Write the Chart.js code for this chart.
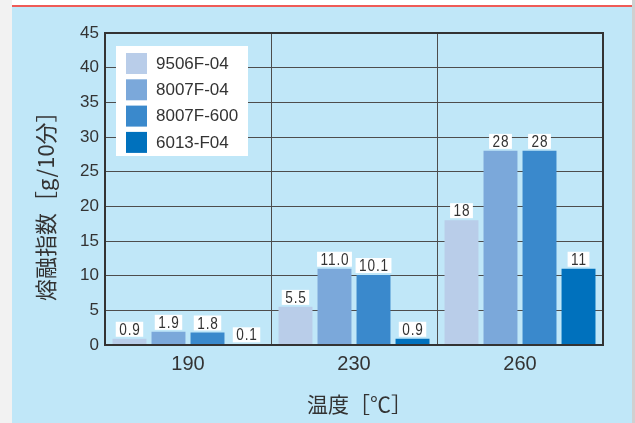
<!DOCTYPE html>
<html>
<head>
<meta charset="utf-8">
<script src="https://cdn.jsdelivr.net/npm/chart.js@4.4.1/dist/chart.umd.min.js"></script>
<style>
  html, body { margin: 0; padding: 0; background: #ffffff; }
  #page { position: relative; width: 635px; height: 423px; overflow: hidden; background: #ffffff; }
  #edgeL { position: absolute; left: 0; top: 0; width: 12px; height: 423px; background: #f2f2f2; }
  #edgeR { position: absolute; left: 632px; top: 0; width: 3px; height: 423px; background: #d0d0d0; }
  #panel { position: absolute; left: 12px; top: 5px; width: 620px; height: 418px; background: #c0e7f8; border-top: 2px solid #ef5b57; box-sizing: border-box; }
  #chart { position: absolute; left: 0; top: 0; }
</style>
</head>
<body>
<div id="page">
  <div id="edgeL"></div>
  <div id="edgeR"></div>
  <div id="panel"></div>
  <canvas id="chart" width="635" height="423"></canvas>
</div>
<script>
// Melt flow index of four grades at three test temperatures
const temperatures = ['190', '230', '260'];
const grades = ['9506F-04', '8007F-04', '8007F-600', '6013-F04'];
const mfi9506F04 = [0.9, 5.5, 18];
const mfi8007F04 = [1.9, 11.0, 28];
const mfi8007F600 = [1.8, 10.1, 28];
const mfi6013F04 = [0.1, 0.9, 11];
const labelDecimals = [1, 1, 0];
const yTicks = [0, 5, 10, 15, 20, 25, 30, 35, 40, 45];
const gradeColors = ['#b9cde9', '#7ba8da', '#3a89cc', '#0071bd'];

const seriesValues = [mfi9506F04, mfi8007F04, mfi8007F600, mfi6013F04];
const TEXT = '#333333';
const NUM_FONT = '"Liberation Sans", Arial, sans-serif';
const CJK_FONT = '"Noto Sans CJK JP", "Noto Sans CJK SC", sans-serif';
const LABEL_SX = 0.85;

function labelText(ds, i) {
  return ds.data[i].toFixed(labelDecimals[i]);
}
function setLabelFont(ctx) {
  ctx.font = '16px ' + NUM_FONT;
  if ('letterSpacing' in ctx) ctx.letterSpacing = '1px';
  ctx.textAlign = 'center';
  ctx.textBaseline = 'alphabetic';
}

// Heavier frame around the plot area
const plotFrame = {
  id: 'plotFrame',
  afterDatasetsDraw(chart) {
    const { ctx, chartArea: a } = chart;
    ctx.save();
    ctx.strokeStyle = '#333333';
    ctx.lineWidth = 2;
    ctx.strokeRect(a.left, a.top, a.right - a.left, a.bottom - a.top);
    ctx.restore();
  }
};

// Value captions above each bar; a white patch clears the grid behind the text
const valueLabels = {
  id: 'valueLabels',
  beforeDatasetsDraw(chart) {
    const ctx = chart.ctx;
    ctx.save();
    setLabelFont(ctx);
    ctx.fillStyle = '#ffffff';
    chart.data.datasets.forEach((ds, di) => {
      chart.getDatasetMeta(di).data.forEach((bar, i) => {
        const w = ctx.measureText(labelText(ds, i)).width * LABEL_SX;
        const base = bar.y - 4;
        ctx.fillRect(bar.x - w / 2 - 3, base - 13, w + 6, 15);
      });
    });
    ctx.restore();
  },
  afterDatasetsDraw(chart) {
    const ctx = chart.ctx;
    ctx.save();
    setLabelFont(ctx);
    ctx.fillStyle = TEXT;
    chart.data.datasets.forEach((ds, di) => {
      chart.getDatasetMeta(di).data.forEach((bar, i) => {
        ctx.save();
        ctx.translate(bar.x + 0.5, bar.y - 4);
        ctx.scale(LABEL_SX, 1);
        ctx.fillText(labelText(ds, i), 0, 0);
        ctx.restore();
      });
    });
    ctx.restore();
  }
};

// Legend box in the upper left of the plot
const boxLegend = {
  id: 'boxLegend',
  afterDatasetsDraw(chart) {
    const ctx = chart.ctx;
    const area = chart.chartArea;
    const x0 = area.left + 11, y0 = area.top + 13;
    ctx.save();
    ctx.fillStyle = '#ffffff';
    ctx.fillRect(x0, y0, 132, 110);
    ctx.font = '17px ' + NUM_FONT;
    ctx.textBaseline = 'middle';
    ctx.textAlign = 'left';
    chart.data.datasets.forEach((ds, i) => {
      const ry = y0 + 7 + i * 26.3;
      ctx.fillStyle = ds.backgroundColor;
      ctx.fillRect(x0 + 10, ry, 21, 21);
      ctx.fillStyle = TEXT;
      ctx.fillText(ds.label, x0 + 40, ry + 11);
    });
    ctx.restore();
  }
};

// Axis titles
const axisTitles = {
  id: 'axisTitles',
  afterDraw(chart) {
    const ctx = chart.ctx;
    ctx.save();
    ctx.fillStyle = TEXT;
    ctx.textBaseline = 'middle';
    ctx.textAlign = 'left';
    ctx.font = '21px ' + CJK_FONT;
    ctx.fillText('温度［℃］', 307, 404);
    ctx.font = '22px ' + CJK_FONT;
    ctx.translate(46, 301);
    ctx.rotate(-Math.PI / 2);
    ctx.fillText('熔融指数［g/10分］', 0, 0);
    ctx.restore();
  }
};

new Chart(document.getElementById('chart'), {
  type: 'bar',
  data: {
    labels: temperatures,
    datasets: grades.map((g, i) => ({
      label: g,
      data: seriesValues[i],
      backgroundColor: gradeColors[i],
      borderWidth: 0,
      categoryPercentage: 0.94,
      barPercentage: 0.87
    }))
  },
  options: {
    responsive: false,
    devicePixelRatio: 1,
    animation: false,
    layout: { padding: { left: 0, top: 33, right: 32, bottom: 0 } },
    plugins: {
      legend: { display: false },
      tooltip: { enabled: false }
    },
    scales: {
      x: {
        grid: { color: '#4d4d4d', lineWidth: 1, offset: true, drawTicks: false },
        border: { color: '#333333', width: 2 },
        ticks: { color: TEXT, font: { family: NUM_FONT, size: 20 }, padding: 7 },
        afterFit(scale) { scale.height = 78; }
      },
      y: {
        min: 0,
        max: 45,
        afterBuildTicks(scale) { scale.ticks = yTicks.map(v => ({ value: v })); },
        grid: { color: '#4d4d4d', lineWidth: 1, drawTicks: false },
        border: { color: '#333333', width: 2 },
        ticks: { color: TEXT, font: { family: NUM_FONT, size: 17 }, padding: 6 },
        afterFit(scale) { scale.width = 105; }
      }
    }
  },
  plugins: [plotFrame, valueLabels, boxLegend, axisTitles]
});
</script>
</body>
</html>
